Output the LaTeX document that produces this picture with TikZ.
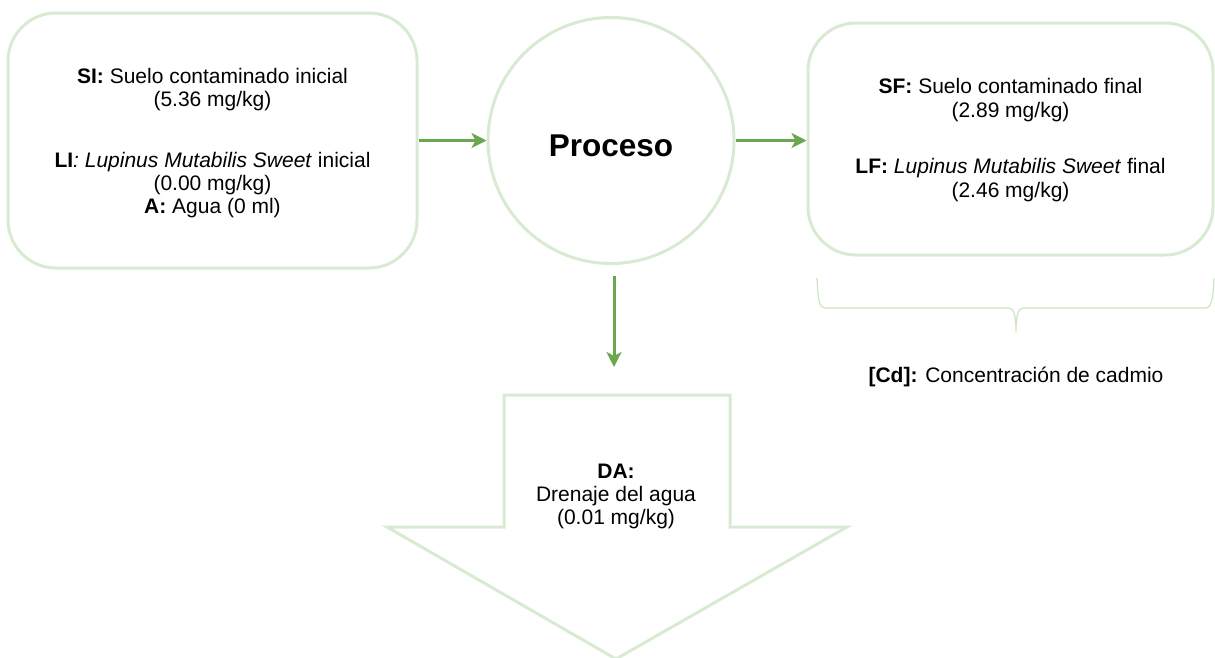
\documentclass[tikz,border=0pt]{standalone}
\usepackage{fontspec}
\setmainfont{Liberation Sans}
\usetikzlibrary{arrows.meta}
\definecolor{boxline}{RGB}{217,234,211}
\definecolor{flow}{RGB}{106,168,79}
\definecolor{braceline}{RGB}{205,228,196}
\tikzset{
  panel/.style={draw=boxline, line width=3pt, rounded corners=48pt, inner sep=0pt},
  flowarrow/.style={draw=flow, line width=3pt, -{Stealth[length=15pt,width=15pt,inset=4pt]}},
  bodytext/.style={font=\fontsize{21}{23}\selectfont, align=center},
}
\begin{document}
\begin{tikzpicture}[x=1pt,y=-1pt]
\useasboundingbox (0,0) rectangle (1215,657);

% input panel
\node[panel, minimum width=409pt, minimum height=255pt] (lbox) at (212.5,140.5) {};
\node[bodytext] (ltext) at ([yshift=-3pt]lbox.center)
  {\textbf{SI:} Suelo contaminado inicial\\
   (5.36 mg/kg)\\[38pt]
   \textbf{LI}\textit{:} \textit{Lupinus Mutabilis Sweet} inicial\\
   (0.00 mg/kg)\\
   \textbf{A:} Agua (0 ml)};

% process
\node[draw=boxline, line width=3pt, circle, minimum size=246pt, inner sep=0pt] (proc) at (611,140.5) {};
\node[font=\bfseries\fontsize{31.5}{36}\selectfont] (ptext) at ([yshift=-5pt]proc.center) {Proceso};

% output panel
\node[panel, minimum width=405pt, minimum height=232pt] (rbox) at (1010.5,139) {};
\node[bodytext, font=\fontsize{21}{24}\selectfont] (rtext) at ([yshift=-1.5pt]rbox.center)
  {\textbf{SF:} Suelo contaminado final\\
   (2.89 mg/kg)\\[32pt]
   \textbf{LF:} \textit{Lupinus Mutabilis Sweet} final\\
   (2.46 mg/kg)};

% drainage block arrow
\coordinate (dtop) at (614,395);
\draw[boxline, line width=3pt, line join=miter]
  (504,395) -- (730,395) -- (730,527) -- (847,527) -- (616,659) -- (387,527) -- (504,527) -- cycle;
\node[bodytext] (drain) at (616,496)
  {\textbf{DA:}\\Drenaje del agua\\(0.01 mg/kg)};

% flow arrows
\draw[flowarrow] (lbox.east) -- (proc.west);
\draw[flowarrow] (proc.east) -- (proc.east -| rbox.west);
\draw[flowarrow, shorten <=11pt, shorten >=28pt] (proc.south -| dtop) -- (dtop);

% brace under the output panel
\draw[braceline, line width=1.2pt]
  (817,278) .. controls (818,300) and (819,308) .. (825,308) -- (1009,308)
  .. controls (1014,308) and (1016,316) .. (1016,332)
  .. controls (1016,316) and (1018,308) .. (1023,308) -- (1206,308)
  .. controls (1211,308) and (1213,300) .. (1214,278);
\node[font=\fontsize{21}{24}\selectfont] (cd) at (1016,377) {\textbf{[Cd]:} Concentración de cadmio};
\end{tikzpicture}
\end{document}
